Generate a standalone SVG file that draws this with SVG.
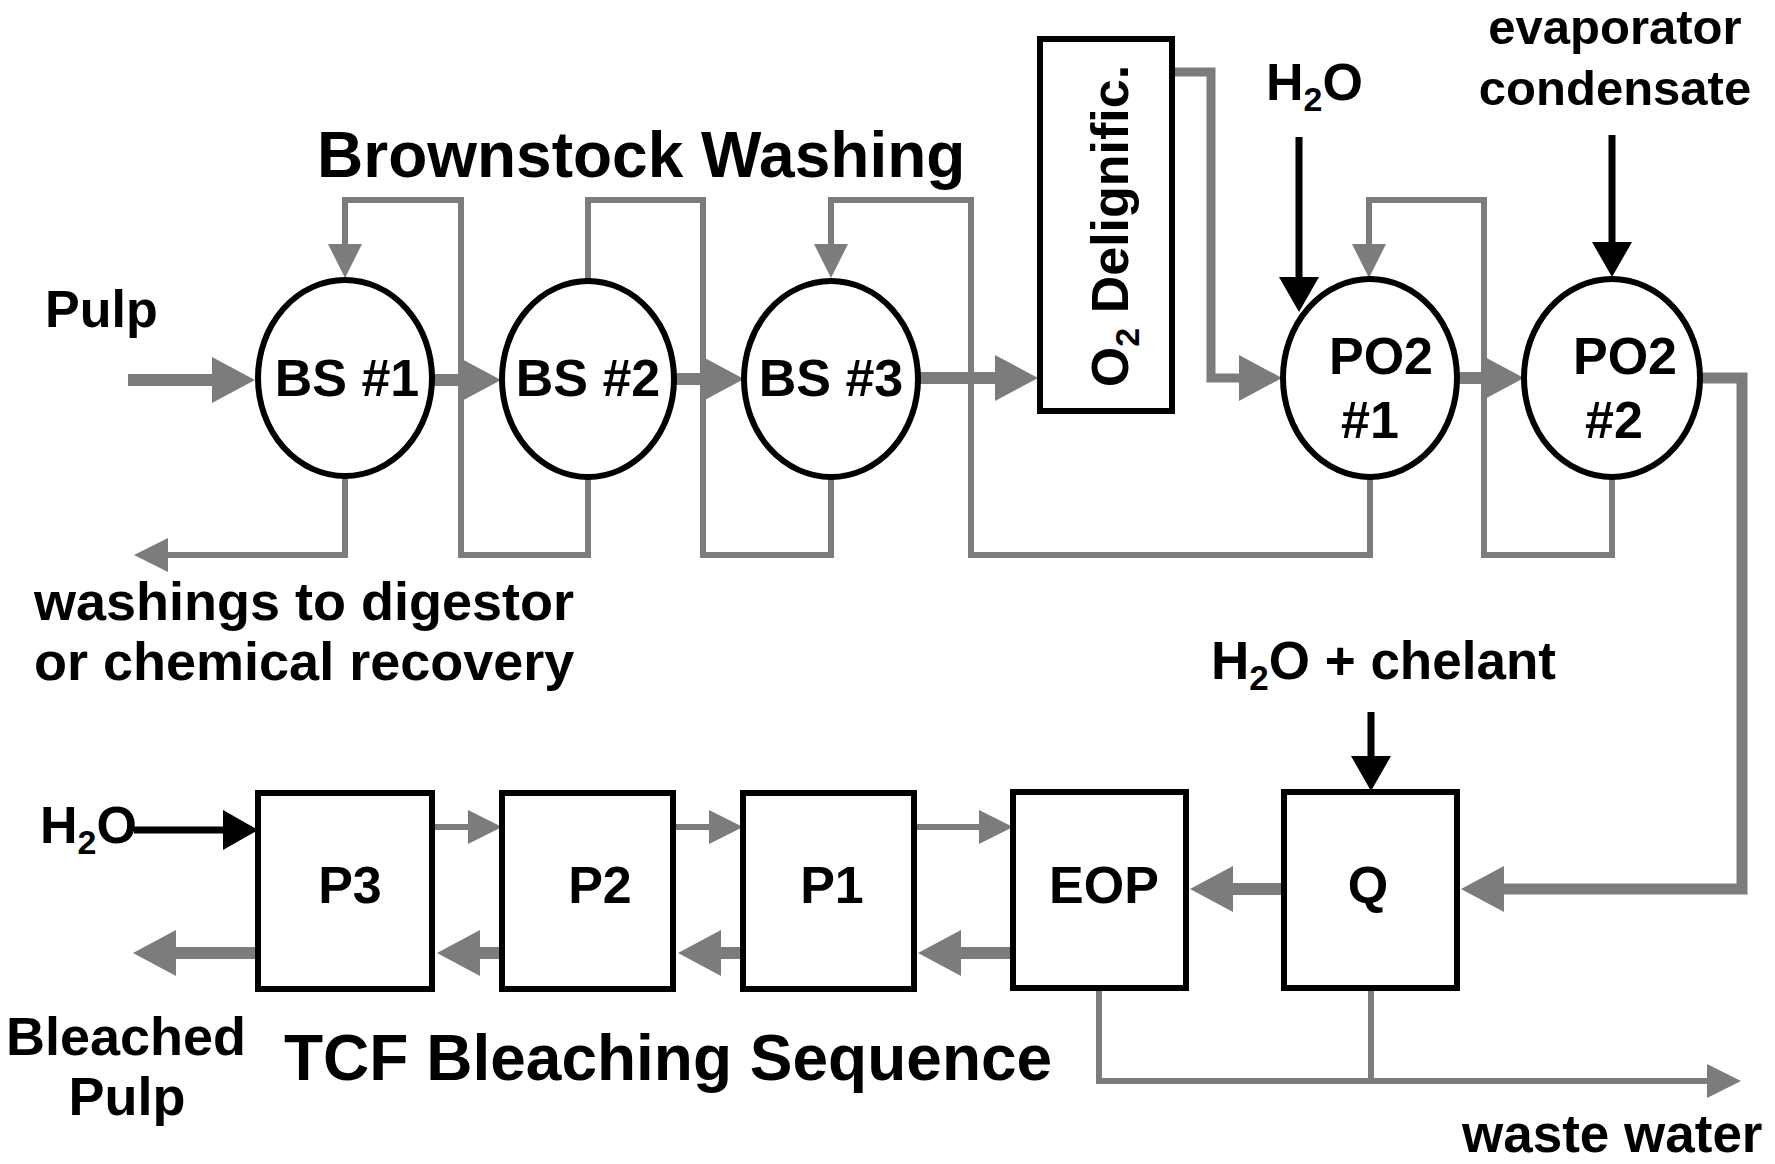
<svg xmlns="http://www.w3.org/2000/svg" width="1775" height="1164" viewBox="0 0 1775 1164">
<style>
  text { font-family: "Liberation Sans", Arial, sans-serif; font-weight: bold; fill: #000; }
  .lbl { font-size: 52px; }
  .big { font-size: 54px; }
  .title { font-size: 64px; }
  .mid { text-anchor: middle; }
  .node ellipse, .node rect { fill: #fff; stroke: #000; stroke-width: 6; }
  .main { fill: none; stroke: #7c7c7c; stroke-width: 12; marker-end: url(#bigGray); }
  .rec { fill: none; stroke: #7c7c7c; stroke-width: 6; }
  .recA { marker-end: url(#smallGray); }
  .inp { fill: none; stroke: #000; stroke-width: 7; marker-end: url(#blackHead); }
</style>
<defs>
  <marker id="bigGray" markerUnits="userSpaceOnUse" markerWidth="44" markerHeight="46" refX="1" refY="23" orient="auto" overflow="visible">
    <path d="M0,0 L43,23 L0,46 Z" fill="#7c7c7c"/>
  </marker>
  <marker id="smallGray" markerUnits="userSpaceOnUse" markerWidth="34" markerHeight="34" refX="1" refY="17" orient="auto" overflow="visible">
    <path d="M0,0 L34,17 L0,34 Z" fill="#7c7c7c"/>
  </marker>
  <marker id="blackHead" markerUnits="userSpaceOnUse" markerWidth="36" markerHeight="40" refX="1" refY="20" orient="auto" overflow="visible">
    <path d="M0,0 L35,20 L0,40 Z" fill="#000"/>
  </marker>
</defs>
<rect width="1775" height="1164" fill="#fff"/>

<g id="connectors">
  <!-- recycle / filtrate lines -->
  <path class="rec recA" d="M588,477 V555 H461 V200 H345 V245"/>
  <path class="rec" d="M831,477 V555 H703 V200 H588 V282"/>
  <path class="rec recA" d="M1370,477 V555 H971 V200 H831 V245"/>
  <path class="rec recA" d="M1612,477 V555 H1484 V200 H1369 V245"/>
  <path class="rec recA" d="M345,477 V555 H167"/>
  <!-- main pulp flow -->
  <path class="main" d="M128,380 H213"/>
  <path class="main" d="M430,380 H459"/>
  <path class="main" d="M672,379 H702"/>
  <path class="main" d="M916,378 H996"/>
  <path class="main" style="stroke-width:9" d="M1172,72 H1211 V378 H1240"/>
  <path class="main" d="M1455,378 H1482"/>
  <path class="main" style="stroke-width:11" d="M1698,378 H1742 V889 H1503"/>
  <path class="main" d="M1284,889 H1232"/>
  <path class="main" d="M1013,953 H960"/>
  <path class="main" d="M743,953 H720"/>
  <path class="main" d="M502,953 H479"/>
  <path class="main" d="M258,953 H175"/>
  <!-- bleaching filtrate (forward) -->
  <path class="rec recA" d="M432,827 H469"/>
  <path class="rec recA" d="M673,827 H710"/>
  <path class="rec recA" d="M914,827 H980"/>
  <!-- waste water -->
  <path class="rec recA" d="M1099,988 V1081 H1708"/>
  <path class="rec" d="M1371,988 V1081"/>
  <!-- fresh inputs -->
  <path class="inp" d="M1299,137 V278"/>
  <path class="inp" d="M1612,135 V243"/>
  <path class="inp" d="M1371,712 V757"/>
  <path class="inp" d="M134,830 H224"/>
</g>

<g id="node-bs1" class="node"><ellipse cx="345" cy="378" rx="87" ry="98"/><text class="lbl mid" x="347" y="396">BS #1</text></g>
<g id="node-bs2" class="node"><ellipse cx="588" cy="379" rx="86" ry="98"/><text class="lbl mid" x="588" y="396">BS #2</text></g>
<g id="node-bs3" class="node"><ellipse cx="831" cy="379" rx="87" ry="98"/><text class="lbl mid" x="831" y="396">BS #3</text></g>
<g id="node-o2" class="node"><rect x="1040" y="39" width="132" height="372"/>
  <text class="lbl mid" transform="translate(1128,226) rotate(-90)">O<tspan font-size="34" dy="11">2</tspan><tspan dy="-11"> Delignific.</tspan></text></g>
<g id="node-po2-1" class="node"><ellipse cx="1370" cy="378" rx="87" ry="99"/><text class="lbl mid" x="1381" y="374">PO2</text><text class="lbl mid" x="1370" y="438">#1</text></g>
<g id="node-po2-2" class="node"><ellipse cx="1612" cy="378" rx="88" ry="99"/><text class="lbl mid" x="1625" y="374">PO2</text><text class="lbl mid" x="1614" y="438">#2</text></g>
<g id="node-p3" class="node"><rect x="258" y="793" width="174" height="196"/><text class="lbl mid" x="350" y="903">P3</text></g>
<g id="node-p2" class="node"><rect x="502" y="793" width="171" height="196"/><text class="lbl mid" x="600" y="903">P2</text></g>
<g id="node-p1" class="node"><rect x="743" y="793" width="171" height="196"/><text class="lbl mid" x="832" y="903">P1</text></g>
<g id="node-eop" class="node"><rect x="1013" y="792" width="173" height="196"/><text class="lbl mid" x="1104" y="903">EOP</text></g>
<g id="node-q" class="node"><rect x="1284" y="792" width="173" height="196"/><text class="lbl mid" x="1368" y="903">Q</text></g>

<g id="labels">
  <text class="title" x="317" y="177">Brownstock Washing</text>
  <text class="lbl" x="45" y="327">Pulp</text>
  <text class="big" x="34" y="620">washings to digestor</text>
  <text class="big" x="34" y="680">or chemical recovery</text>
  <text class="lbl" x="1266" y="100">H<tspan font-size="34" dy="11">2</tspan><tspan dy="-11">O</tspan></text>
  <text class="lbl mid" style="font-size:49px" x="1615" y="44">evaporator</text>
  <text class="lbl mid" style="font-size:49px" x="1615" y="105">condensate</text>
  <text class="lbl" style="font-size:53px" x="1211" y="679">H<tspan font-size="35" dy="11">2</tspan><tspan dy="-11">O + chelant</tspan></text>
  <text class="lbl" x="40" y="843">H<tspan font-size="34" dy="11">2</tspan><tspan dy="-11">O</tspan></text>
  <text class="big mid" x="126" y="1055">Bleached</text>
  <text class="big mid" x="127" y="1115">Pulp</text>
  <text class="title" x="284" y="1080">TCF Bleaching Sequence</text>
  <text class="lbl" style="font-size:53px" x="1462" y="1152">waste water</text>
</g>
</svg>
